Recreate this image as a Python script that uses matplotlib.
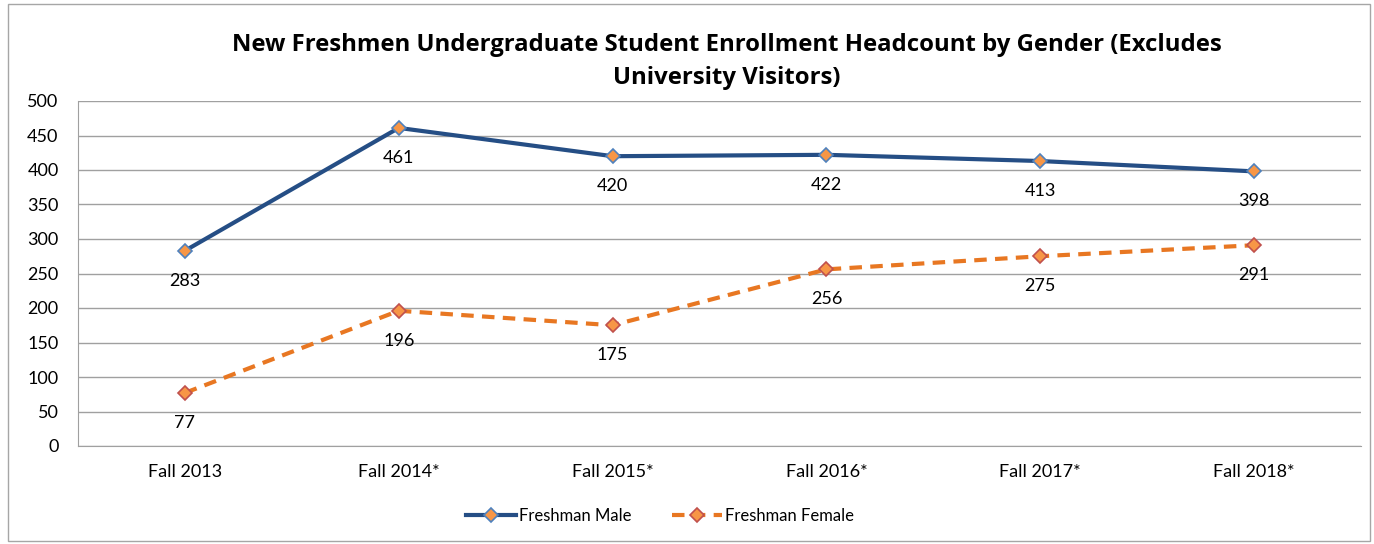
import matplotlib.pyplot as plt
from matplotlib.patches import Rectangle

categories = ['Fall 2013', 'Fall 2014*', 'Fall 2015*', 'Fall 2016*', 'Fall 2017*', 'Fall 2018*']
male = [283, 461, 420, 422, 413, 398]
female = [77, 196, 175, 256, 275, 291]

plt.rcParams['font.family'] = ['Lato', 'DejaVu Sans']

fig = plt.figure(figsize=(13.74, 5.44), dpi=100)
ax = fig.add_axes([78/1374, 1-446/544, 1283/1374, 345/544])

# outer chart border
fig.patches.append(Rectangle((8/1374, 3/544), 1362/1374, 537/544, transform=fig.transFigure,
                             fill=False, edgecolor='#a6a6a6', linewidth=1))

x = range(len(categories))
ax.plot(x, male, '-', color='#254E85', linewidth=3.0, marker='D', markersize=7.5,
        markerfacecolor='#F79646', markeredgecolor='#4F81BD', markeredgewidth=1.2,
        label='Freshman Male', zorder=3)
ax.plot(x, female, '--', color='#E87722', linewidth=3.0, dashes=(3, 2), marker='D', markersize=7.5,
        markerfacecolor='#F79646', markeredgecolor='#C0504D', markeredgewidth=1.2,
        label='Freshman Female', zorder=3)

for i in x:
    ax.annotate(str(male[i]), (i, male[i]), xytext=(0, -21.5), textcoords='offset points',
                ha='center', va='center', fontsize=13)
    ax.annotate(str(female[i]), (i, female[i]), xytext=(0, -21.5), textcoords='offset points',
                ha='center', va='center', fontsize=13)

ax.set_xlim(-0.5, 5.5)
ax.set_ylim(0, 500)
ax.set_yticks(range(0, 501, 50))
ax.set_xticks(list(x))
ax.set_xticklabels(categories)
ax.tick_params(axis='both', length=0, labelsize=13)
ax.tick_params(axis='x', pad=13)
ax.tick_params(axis='y', pad=14)
ax.grid(axis='y', color='#a0a0a0', linewidth=1)
ax.set_axisbelow(True)
for s in ['top', 'right']:
    ax.spines[s].set_visible(False)
for s in ['left', 'bottom']:
    ax.spines[s].set_color('#a0a0a0')

title_font = ['Open Sans', 'DejaVu Sans']
fig.text(727/1374, 1-45/544, 'New Freshmen Undergraduate Student Enrollment Headcount by Gender (Excludes',
         ha='center', va='center', fontsize=17.2, fontweight='bold', family=title_font)
fig.text(727/1374, 1-78/544, 'University Visitors)',
         ha='center', va='center', fontsize=17.2, fontweight='bold', family=title_font)

fig.legend(loc='center', bbox_to_anchor=(660/1374, 1-516/544), ncol=2, frameon=False,
           fontsize=12, handlelength=3.0, handletextpad=0.2, columnspacing=2.4)

fig.savefig('out.png', dpi=100)
